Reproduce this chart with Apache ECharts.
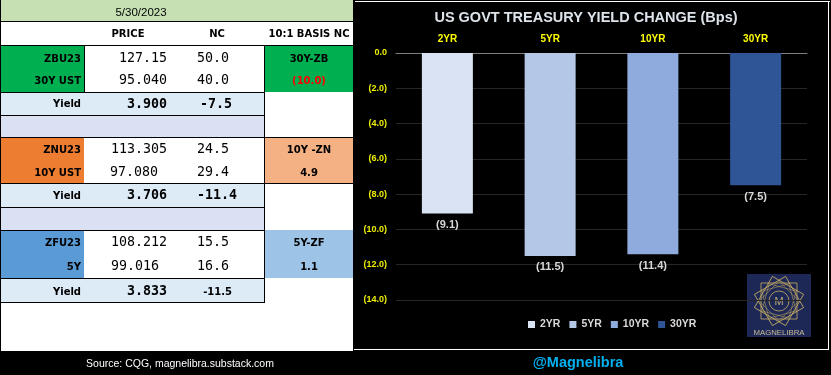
<!DOCTYPE html>
<html>
<head>
<meta charset="utf-8">
<script src="https://cdn.jsdelivr.net/npm/echarts@6/dist/echarts.min.js"></script>
<style>
html,body{margin:0;padding:0;background:#000;}
#c{width:831px;height:375px;}
</style>
</head>
<body>
<div id="c"></div>
<script>
// ---- chart data ----
const categories = ['2YR', '5YR', '10YR', '30YR'];
const yieldChange = [-9.1, -11.5, -11.4, -7.5];
const yTicks = { min: -14, max: 0, interval: 2 };

// ---- table data ----
const tableDate = '5/30/2023';
const tableHeaders = ['PRICE', 'NC', '10:1 BASIS NC'];
const contracts = ['ZBU23', 'ZNU23', 'ZFU23'];
const cashNames = ['30Y UST', '10Y UST', '5Y'];
const futPrices = ['127.15', '113.305', '108.212'];
const futNC = ['50.0', '24.5', '15.5'];
const cashPrices = ['95.040', '97.080', '99.016'];
const cashNC = ['40.0', '29.4', '16.6'];
const yieldsTxt = ['3.900', '3.706', '3.833'];
const yieldNC = ['-7.5', '-11.4', '-11.5'];
const basisNames = ['30Y-ZB', '10Y -ZN', '5Y-ZF'];
const basisNC = ['(10.0)', '4.9', '1.1'];

// ---- styles ----
const barColors = ['#dae3f3', '#b4c7e7', '#8faadc', '#2f5597'];
const blockDark = ['#00b050', '#ed7d31', '#5b9bd5'];
const blockLight = ['#00b050', '#f4b183', '#9dc3e6'];
const basisColors = ['#ff0000', '#000000', '#000000'];
const layoutBlocks = [
  { top: 45, bot: 92, t1: 59, t2: 81, yb: 115, yy: 104.5, lb: 137, cashR: 167, ncR: 232, lineA: true, ynFont: 'mono' },
  { top: 137, bot: 183, t1: 150, t2: 173, yb: 207, yy: 196, lb: 230, cashR: 158, ncR: 237, lineA: false, ynFont: 'mono' },
  { top: 230, bot: 278, t1: 243, t2: 267, yb: 302, yy: 292, lb: null, cashR: 159, ncR: 232, lineA: false, ynFont: 'sans' }
];

const SANS = '"DejaVu Sans"';
const MONO = '"DejaVu Sans Mono"';
const g = [];
function rect(x, y, w, h, fill) { g.push({ type: 'rect', shape: { x, y, width: w, height: h }, style: { fill }, silent: true }); }
function txt(x, y, text, opts) {
  g.push({ type: 'text', x, y, silent: true, style: Object.assign({ text, fill: '#000', align: 'left', verticalAlign: 'middle', fontFamily: SANS, fontSize: 10, fontWeight: 'bold' }, opts) });
}

// table background
rect(1, 0, 352, 351, '#ffffff');
rect(1, 0, 352, 21, '#c6e0b4');
layoutBlocks.forEach((b, i) => {
  rect(1, b.top, 83, b.bot - b.top, blockDark[i]);
  rect(265, b.top, 88, b.bot - b.top, blockLight[i]);
  rect(1, b.bot, 263, b.yb - b.bot, '#ddebf7');
  if (b.lb) rect(1, b.yb, 263, b.lb - b.yb, '#d9e1f2');
});
// lines
rect(0, 0, 1, 351, '#000');
rect(1, 21, 352, 1, '#000');
rect(1, 45, 352, 1, '#000');
rect(1, 92, 263, 1, '#000');
rect(1, 115, 263, 1, '#000');
rect(1, 137, 352, 1, '#000');
rect(1, 183, 352, 1, '#000');
rect(1, 207, 263, 1, '#000');
rect(1, 230, 263, 1, '#000');
rect(1, 278, 263, 1, '#000');
rect(1, 302, 263, 1, '#000');
rect(84, 45, 1, 47, '#000');
rect(264, 45, 1, 258, '#000');

// header texts
txt(141, 12.5, tableDate, { align: 'center', fontWeight: 'normal', fontFamily: '"Liberation Sans"', fontSize: 11.5 });
txt(128, 34.5, tableHeaders[0], { align: 'center' });
txt(217, 34.5, tableHeaders[1], { align: 'center' });
txt(309, 34.5, tableHeaders[2], { align: 'center' });

layoutBlocks.forEach((b, i) => {
  txt(81, b.t1, contracts[i], { align: 'right' });
  txt(81, b.t2, cashNames[i], { align: 'right' });
  txt(167, b.t1, futPrices[i], { align: 'right', fontFamily: MONO, fontSize: 13.3, fontWeight: 'normal' });
  txt(229, b.t1, futNC[i], { align: 'right', fontFamily: MONO, fontSize: 13.3, fontWeight: 'normal' });
  txt(b.cashR, b.t2, cashPrices[i], { align: 'right', fontFamily: MONO, fontSize: 13.3, fontWeight: 'normal' });
  txt(229, b.t2, cashNC[i], { align: 'right', fontFamily: MONO, fontSize: 13.3, fontWeight: 'normal' });
  txt(309, b.t1, basisNames[i], { align: 'center' });
  txt(309, b.t2, basisNC[i], { align: 'center', fill: basisColors[i] });
  txt(81, b.yy, 'Yield', { align: 'right' });
  txt(167, b.yy, yieldsTxt[i], { align: 'right', fontFamily: MONO, fontSize: 13.3 });
  if (b.ynFont === 'mono') txt(b.ncR, b.yy, yieldNC[i], { align: 'right', fontFamily: MONO, fontSize: 13.3 });
  else txt(b.ncR, b.yy, yieldNC[i], { align: 'right', fontSize: 10 });
});

// footer texts
txt(180, 364, 'Source: CQG, magnelibra.substack.com', { align: 'center', fill: '#ffffff', fontWeight: 'normal', fontFamily: '"Liberation Sans"', fontSize: 10.5 });
txt(578, 363, '@Magnelibra', { align: 'center', fill: '#00b0f0', fontFamily: '"Liberation Sans"', fontSize: 14.5 });

// chart frame
rect(355, 1, 475, 1, '#ffffff');
rect(828, 1, 1, 349, '#ffffff');
rect(354, 349, 475, 1, '#ffffff');

// title
txt(586, 18, 'US GOVT TREASURY YIELD CHANGE (Bps)', { align: 'center', fill: '#dde3ea', fontFamily: '"Liberation Sans"', fontSize: 14.5 });

// logo
const lcx = 779, lcy = 301, gold = '#c8ad62';
rect(747, 274, 64, 63, '#1d2857');
[0, Math.PI / 6, Math.PI / 3].forEach(r => {
  g.push({ type: 'rect', x: lcx, y: lcy, rotation: r, shape: { x: -18, y: -18, width: 36, height: 36 }, style: { fill: 'none', stroke: gold, lineWidth: 0.8 }, silent: true });
});
[Math.PI / 12, Math.PI / 4, 5 * Math.PI / 12].forEach(r => {
  g.push({ type: 'rect', x: lcx, y: lcy, rotation: r, shape: { x: -14, y: -14, width: 28, height: 28 }, style: { fill: 'none', stroke: gold, lineWidth: 0.6, opacity: 0.8 }, silent: true });
});
g.push({ type: 'circle', shape: { cx: lcx, cy: lcy, r: 10 }, style: { fill: '#1d2857', stroke: gold, lineWidth: 0.8 }, silent: true });
txt(lcx, lcy + 0.5, 'M', { align: 'center', fill: '#b9a77a', fontWeight: 'normal', fontSize: 11, fontFamily: '"Liberation Sans"' });
txt(lcx, 332.5, 'MAGNELIBRA', { align: 'center', fill: '#c9bd94', fontWeight: 'normal', fontSize: 7.8, fontFamily: '"Liberation Sans"' });

const series = categories.map((c, i) => ({
  name: c,
  type: 'bar',
  data: yieldChange.map((v, j) => (j === i ? v : '-')),
  barWidth: 51,
  barGap: '-100%',
  itemStyle: { color: barColors[i] },
  label: {
    show: true,
    position: 'bottom',
    distance: 6,
    formatter: p => '(' + Math.abs(p.value).toFixed(1) + ')',
    color: '#d9d9d9',
    fontWeight: 'bold',
    fontSize: 11,
    fontFamily: '"Liberation Sans"'
  }
}));

const chart = echarts.init(document.getElementById('c'), null, { renderer: 'canvas' });
chart.setOption({
  backgroundColor: '#000000',
  animation: false,
  grid: { left: 396, top: 53, width: 411, height: 247, containLabel: false },
  legend: {
    data: categories,
    left: 523, top: 314,
    icon: 'rect', itemWidth: 7, itemHeight: 7, itemGap: 9,
    selectedMode: false,
    textStyle: { color: '#d9d9d9', fontWeight: 'bold', fontSize: 10.5, fontFamily: '"Liberation Sans"' }
  },
  xAxis: {
    type: 'category',
    data: categories,
    position: 'top',
    axisLine: { show: true, lineStyle: { color: '#7f7f7f', width: 1 } },
    axisTick: { show: false },
    axisLabel: { color: '#ffff00', fontWeight: 'bold', fontSize: 10, margin: 9, fontFamily: '"Liberation Sans"' },
    splitLine: { show: false }
  },
  yAxis: {
    type: 'value',
    min: yTicks.min, max: yTicks.max, interval: yTicks.interval,
    axisLine: { show: false },
    axisTick: { show: false },
    axisLabel: {
      color: '#eeee00', fontWeight: 'bold', fontSize: 9, margin: 9, fontFamily: '"Liberation Sans"',
      formatter: v => (v === 0 ? '0.0' : '(' + Math.abs(v).toFixed(1) + ')')
    },
    splitLine: { lineStyle: { color: '#262626', width: 1 } }
  },
  series,
  graphic: g
});
</script>
</body>
</html>
